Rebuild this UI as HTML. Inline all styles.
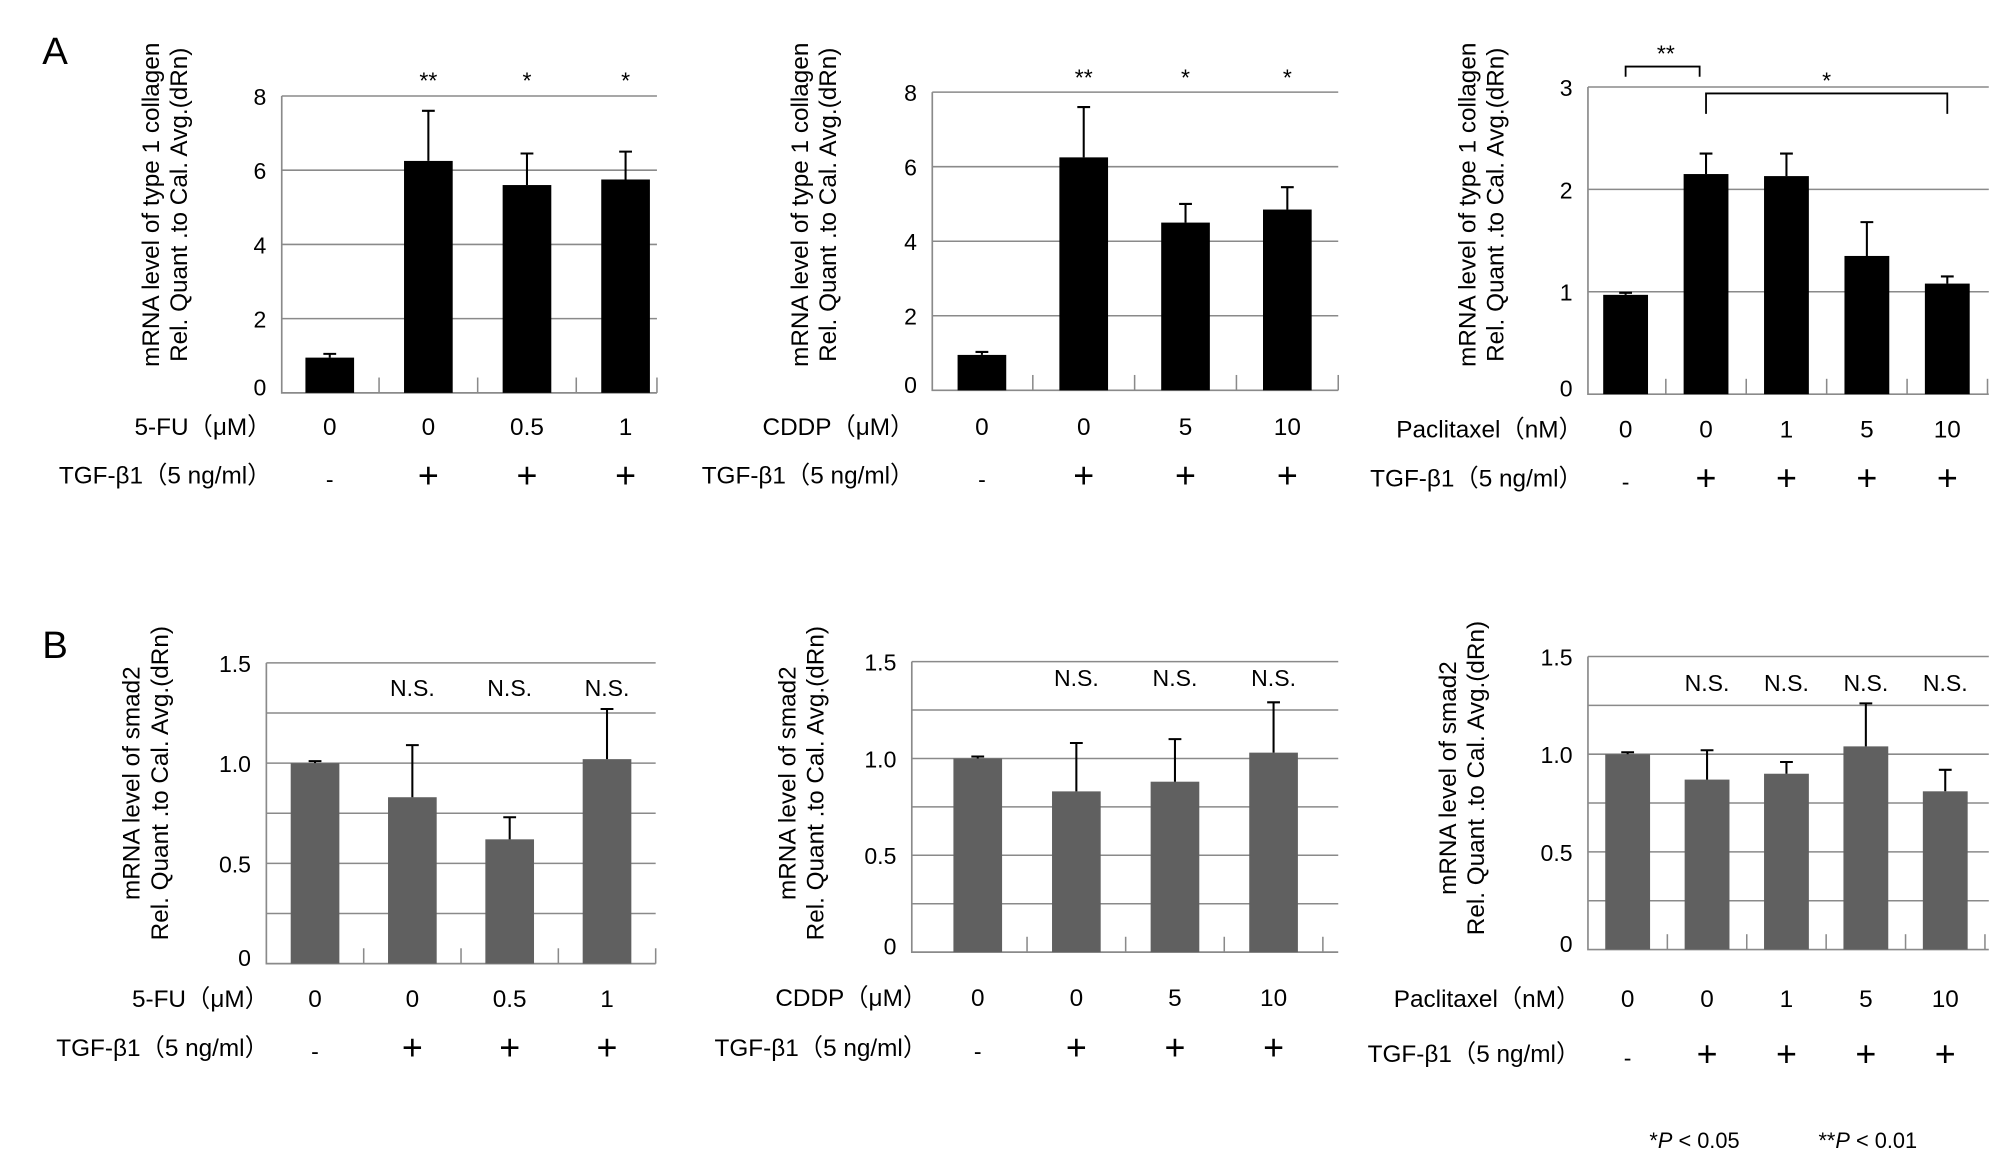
<!DOCTYPE html>
<html><head><meta charset="utf-8">
<style>
html,body{margin:0;padding:0;background:#fff;}
svg{display:block;}
text{font-family:"Liberation Sans","Noto Sans CJK JP",sans-serif;fill:#000;}
</style></head>
<body>
<svg id="fig" width="2008" height="1162" viewBox="0 0 1568 908" preserveAspectRatio="none" xmlns="http://www.w3.org/2000/svg">
<text x="33" y="50" font-size="30">A</text>
<text x="33" y="514" font-size="30">B</text>
<text x="1288" y="897" font-size="17">*<tspan font-style="italic">P</tspan> &lt; 0.05</text>
<text x="1420" y="897" font-size="17">**<tspan font-style="italic">P</tspan> &lt; 0.01</text>
</svg>
<script>
// ---- data ----
const a1Categories = ["0","0","0.5","1"];
const a1Tgf = ["-","+","+","+"];
const a1Values = [0.95, 6.25, 5.6, 5.75];
const a1Errors = [0.1, 1.35, 0.85, 0.75];
const a1Sig = ["", "**", "*", "*"];
const a1Ticks = ["0","2","4","6","8"];

const a2Categories = ["0","0","5","10"];
const a2Tgf = ["-","+","+","+"];
const a2Values = [0.95, 6.25, 4.5, 4.85];
const a2Errors = [0.08, 1.35, 0.5, 0.6];
const a2Sig = ["", "**", "*", "*"];
const a2Ticks = ["0","2","4","6","8"];

const a3Categories = ["0","0","1","5","10"];
const a3Tgf = ["-","+","+","+","+"];
const a3Values = [0.97, 2.15, 2.13, 1.35, 1.08];
const a3Errors = [0.02, 0.2, 0.22, 0.33, 0.07];
const a3Ticks = ["0","1","2","3"];

const b1Categories = ["0","0","0.5","1"];
const b1Tgf = ["-","+","+","+"];
const b1Values = [1.0, 0.83, 0.62, 1.02];
const b1Errors = [0.01, 0.26, 0.11, 0.25];
const b1Sig = ["", "N.S.", "N.S.", "N.S."];
const bTicks = ["0","0.5","1.0","1.5"];

const b2Categories = ["0","0","5","10"];
const b2Tgf = ["-","+","+","+"];
const b2Values = [1.0, 0.83, 0.88, 1.03];
const b2Errors = [0.01, 0.25, 0.22, 0.26];
const b2Sig = ["", "N.S.", "N.S.", "N.S."];

const b3Categories = ["0","0","1","5","10"];
const b3Tgf = ["-","+","+","+","+"];
const b3Values = [1.0, 0.87, 0.9, 1.04, 0.81];
const b3Errors = [0.01, 0.15, 0.06, 0.22, 0.11];
const b3Sig = ["", "N.S.", "N.S.", "N.S.", "N.S."];

const NS = "http://www.w3.org/2000/svg";
const svg = document.getElementById('fig');
function mk(tag, attrs, parent, txt){
  const e = document.createElementNS(NS, tag);
  for (const k in attrs) e.setAttribute(k, attrs[k]);
  if (txt !== undefined) e.textContent = txt;
  (parent||svg).appendChild(e);
  return e;
}

function chart(c){
  const g = mk('g', {});
  
  
  const n = c.values.length;
  const band = (c.x1 - c.bx0) / n;
  const xc = i => c.bx0 + band * (i + 0.5);
  const y = v => c.y0 - v / c.max * (c.y0 - c.yTop);
  for (let k = 1; k <= c.gridN; k++) {
    const v = c.max * k / c.gridN;
    const l = mk('line', {x1:c.x0, x2:c.xEnd, y1:y(v), y2:y(v), stroke:'#8a8a8a', 'stroke-width':1.2}, g);
    
    
  }
  const ax = mk('path', {d:`M${c.x0},${c.yTop} L${c.x0},${c.y0} L${c.xEnd},${c.y0}`, stroke:'#8a8a8a', 'stroke-width':1.3, fill:'none'}, g);
  
  
  for (let i = 1; i <= n; i++) {
    const tx = Math.min(c.bx0 + band * i, c.xEnd);
    const t = mk('line', {x1:tx, x2:tx, y1:c.y0, y2:c.y0 - 12, stroke:'#8a8a8a', 'stroke-width':1.2}, g);
    
    
  }
  c.ticks.forEach((lab) => {
    const v = parseFloat(lab);
    const t = mk('text', {x:c.x0 - 12, y:y(v) + 7 + (v === 0 ? -5 : 0), 'font-size':18, 'text-anchor':'end'}, g, lab);
    
    
  });
  c.values.forEach((v, i) => {
    const b = mk('rect', {x:xc(i) - c.bw/2, y:y(v), width:c.bw, height:c.y0 - y(v), fill:c.color}, g);
    
    
    const top = y(v + c.errors[i]);
    const e = mk('path', {d:`M${xc(i)},${y(v)} L${xc(i)},${top} M${xc(i)-5},${top} L${xc(i)+5},${top}`, stroke:'#000', 'stroke-width':1.6, fill:'none'}, g);
    
    
    if (c.sig && c.sig[i]) {
      const s = mk('text', {x:xc(i), y:c.sigY, 'font-size':18, 'text-anchor':'middle'}, g, c.sig[i]);
      
      
    }
    const cl = mk('text', {x:xc(i), y:c.catY, 'font-size':19, 'text-anchor':'middle'}, g, c.cats[i]);
    
    
    const tg = mk('text', {x:xc(i), y:c.tgfY, 'font-size':c.tgf[i] === '-' ? 18 : 28, 'text-anchor':'middle'}, g, c.tgf[i]);
    
    
  });
  const dl = mk('text', {x:c.labelRight, y:c.catY, 'font-size':19, 'text-anchor':'end'}, g, c.drugLabel);
  
  
  const tl = mk('text', {x:c.labelRight, y:c.tgfY - 3, 'font-size':19, 'text-anchor':'end'}, g, 'TGF-β1（5 ng/ml）');
  
  
  const cy = c.titleCY;
  const t1 = mk('text', {x:0, y:0, 'font-size':19, 'text-anchor':'middle', transform:`translate(${c.titleX},${cy}) rotate(-90)`}, g, c.title1);
  
  
  const t2 = mk('text', {x:0, y:0, 'font-size':19, 'text-anchor':'middle', transform:`translate(${c.titleX + 22},${cy}) rotate(-90)`}, g, 'Rel. Quant .to Cal. Avg.(dRn)');
  
  
  return {g, xc, y};
}

const colT = 'mRNA level of type 1 collagen';
const smT = 'mRNA level of smad2';
chart({name:'chart-a1', x0:220, bx0:219, x1:527, xEnd:513, y0:307, yTop:75, max:8, gridN:4, bw:38, color:'#000',
  values:a1Values, errors:a1Errors, sig:a1Sig, sigY:69, ticks:a1Ticks, cats:a1Categories, tgf:a1Tgf,
  catY:340, tgfY:381, labelRight:212, drugLabel:'5-FU（μM）', titleX:124, titleCY:160, title1:colT});
chart({name:'chart-a2', x0:728, bx0:727, x1:1045, xEnd:1045, y0:305, yTop:72, max:8, gridN:4, bw:38, color:'#000',
  values:a2Values, errors:a2Errors, sig:a2Sig, sigY:67, ticks:a2Ticks, cats:a2Categories, tgf:a2Tgf,
  catY:340, tgfY:381, labelRight:714, drugLabel:'CDDP（μM）', titleX:631, titleCY:160, title1:colT});
const a3 = chart({name:'chart-a3', x0:1240, bx0:1238, x1:1552, xEnd:1553, y0:308, yTop:68, max:3, gridN:3, bw:35, color:'#000',
  values:a3Values, errors:a3Errors, sig:null, ticks:a3Ticks, cats:a3Categories, tgf:a3Tgf,
  catY:342, tgfY:383, labelRight:1236, drugLabel:'Paclitaxel（nM）', titleX:1152, titleCY:160, title1:colT});
const br1 = mk('path', {d:`M${a3.xc(0)},60 L${a3.xc(0)},52 L${a3.xc(1)-5},52 L${a3.xc(1)-5},60`, stroke:'#000', 'stroke-width':1.4, fill:'none'});


const s1 = mk('text', {x:(a3.xc(0)+a3.xc(1))/2, y:48, 'font-size':18, 'text-anchor':'middle'}, svg, '**');


const br2 = mk('path', {d:`M${a3.xc(1)},89 L${a3.xc(1)},73 L${a3.xc(4)},73 L${a3.xc(4)},89`, stroke:'#000', 'stroke-width':1.4, fill:'none'});


const s2 = mk('text', {x:(a3.xc(1)+a3.xc(4))/2, y:69, 'font-size':18, 'text-anchor':'middle'}, svg, '*');



chart({name:'chart-b1', x0:208, bx0:208, x1:512, xEnd:512, y0:753, yTop:518, max:1.5, gridN:6, bw:38, color:'#606060',
  values:b1Values, errors:b1Errors, sig:b1Sig, sigY:544, ticks:bTicks, cats:b1Categories, tgf:b1Tgf,
  catY:787, tgfY:828, labelRight:210, drugLabel:'5-FU（μM）', titleX:109, titleCY:612, title1:smT});
chart({name:'chart-b2', x0:712, bx0:725, x1:1033, xEnd:1045, y0:744, yTop:517, max:1.5, gridN:6, bw:38, color:'#606060',
  values:b2Values, errors:b2Errors, sig:b2Sig, sigY:536, ticks:bTicks, cats:b2Categories, tgf:b2Tgf,
  catY:786, tgfY:828, labelRight:724, drugLabel:'CDDP（μM）', titleX:621, titleCY:612, title1:smT});
chart({name:'chart-b3', x0:1240, bx0:1240, x1:1550, xEnd:1553, y0:742, yTop:513, max:1.5, gridN:6, bw:35, color:'#606060',
  values:b3Values, errors:b3Errors, sig:b3Sig, sigY:540, ticks:bTicks, cats:b3Categories, tgf:b3Tgf,
  catY:787, tgfY:833, labelRight:1234, drugLabel:'Paclitaxel（nM）', titleX:1137, titleCY:608, title1:smT});
</script>
</body></html>
